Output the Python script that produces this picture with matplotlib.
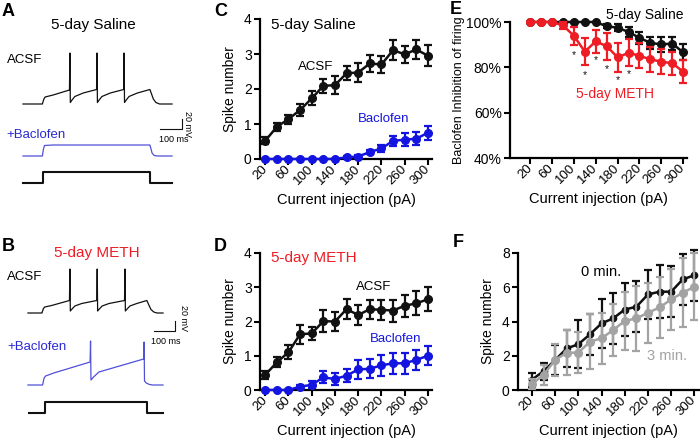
import numpy as np
import matplotlib.pyplot as plt

plt.rcParams['font.family'] = ['Liberation Sans', 'DejaVu Sans']

# ---------------- data ----------------
current = [20, 40, 60, 80, 100, 120, 140, 160, 180, 200, 220, 240, 260, 280, 300]
xtick_vals = [20, 60, 100, 140, 180, 220, 260, 300]

# C: 5-day saline
c_acsf = [0.52, 0.92, 1.14, 1.40, 1.73, 2.09, 2.11, 2.45, 2.47, 2.73, 2.70, 3.11, 2.99, 3.13, 2.95]
c_acsf_err = [0.10, 0.12, 0.13, 0.18, 0.20, 0.20, 0.25, 0.20, 0.28, 0.25, 0.25, 0.28, 0.25, 0.28, 0.30]
c_bac = [0, 0, 0, 0, 0, 0, 0, 0.05, 0.07, 0.20, 0.30, 0.52, 0.55, 0.58, 0.75]
c_bac_err = [0, 0, 0, 0, 0, 0, 0, 0.03, 0.05, 0.07, 0.10, 0.15, 0.18, 0.18, 0.20]

# D: 5-day METH
d_acsf = [0.44, 0.81, 1.10, 1.63, 1.65, 2.01, 2.00, 2.36, 2.19, 2.36, 2.34, 2.32, 2.46, 2.53, 2.65]
d_acsf_err = [0.12, 0.15, 0.20, 0.28, 0.20, 0.32, 0.28, 0.30, 0.30, 0.28, 0.30, 0.32, 0.32, 0.35, 0.35]
d_bac = [0, 0, 0, 0.10, 0.15, 0.37, 0.32, 0.42, 0.60, 0.62, 0.72, 0.78, 0.78, 0.88, 1.00]
d_bac_err = [0, 0, 0, 0.05, 0.10, 0.18, 0.18, 0.20, 0.28, 0.28, 0.30, 0.30, 0.30, 0.30, 0.28]

# E: baclofen inhibition (%)
e_sal = [100, 100, 100, 100, 100, 100, 100, 98.1, 97.5, 95.6, 93.0, 90.8, 90.1, 90.5, 86.6]
e_sal_err = [0, 0, 0, 0, 0, 0, 0, 0.8, 1.5, 2.0, 2.5, 2.8, 3.2, 3.0, 3.5]
e_meth = [100, 100, 100, 98.5, 93.9, 86.9, 91.5, 89.3, 84.4, 86.4, 85.1, 83.5, 82.5, 81.8, 78.1]
e_meth_err = [0, 0, 0, 1.5, 4.0, 6.0, 5.0, 6.0, 6.5, 6.0, 5.5, 5.5, 5.5, 5.0, 5.0]
star_x = [100, 120, 140, 160, 180, 200]
star_y = [85.2, 76.4, 83.0, 79.4, 74.4, 77.2]

# F: 0 min vs 3 min
f_0 = [0.60, 1.10, 1.75, 2.43, 2.67, 3.25, 3.89, 4.18, 4.70, 4.86, 5.58, 5.74, 5.74, 6.46, 6.70]
f_0_err = [0.40, 0.50, 0.90, 1.07, 1.40, 1.20, 1.45, 1.50, 1.56, 1.50, 1.42, 1.55, 1.50, 1.50, 1.50]
f_3 = [0.35, 0.88, 1.75, 2.18, 2.18, 2.82, 3.02, 3.50, 4.03, 4.18, 4.51, 4.82, 5.29, 5.68, 6.03]
f_3_err = [0.30, 0.60, 0.95, 1.30, 1.20, 1.60, 1.50, 1.50, 1.70, 1.90, 1.75, 1.80, 1.80, 2.00, 1.95]

# example traces (time ms, membrane deflection mV)
a_acsf_t = [0, 90, 97, 103, 140, 216, 218, 220, 228, 241, 280, 342, 344, 346, 354, 367, 406,
            468, 470, 472, 480, 493, 532, 590, 596, 606, 618, 635, 693]
a_acsf_v = [0, 0, 10, 14, 18, 28, 102, 3, 8, 15, 22, 29, 102, 3, 8, 15, 22,
            29, 102, 3, 8, 15, 22, 29, 22, 10, 3, 0, 0]
a_bac_t = [0, 90, 95, 100, 140, 590, 594, 600, 610, 625, 693]
a_bac_v = [0, 0, 14, 21, 22, 22, 16, 6, 1, 0, 0]
a_step_t = [0, 93, 93, 590, 590, 693]
a_step_v = [0, 0, 22, 22, 0, 0]

b_acsf_t = [0, 65, 72, 78, 110, 193, 195, 197, 205, 218, 250, 320, 322, 324, 332, 345, 377,
            449, 451, 453, 461, 474, 506, 553, 560, 572, 585, 600, 628]
b_acsf_v = [0, 0, 9, 12, 15, 25, 88, 4, 8, 14, 19, 25, 88, 4, 8, 14, 19,
            25, 88, 4, 8, 14, 19, 25, 18, 7, 2, 0, 0]
b_bac_t = [0, 68, 75, 82, 120, 289, 291, 293, 305, 330, 538, 540, 542, 550, 565, 581, 628]
b_bac_v = [0, 0, 14, 18, 24, 46, 88, 10, 16, 26, 52, 86, 8, 4, 1, 0, 0]
b_step_t = [6, 79, 79, 552, 552, 626]
b_step_v = [0, 0, 22, 22, 0, 0]

blk = '#111111'
blue = '#1414e0'
trace_blue = '#5050d8'
red = '#ee1c24'
gray = '#a3a3a3'

W, H = 700, 448
fig = plt.figure(figsize=(7, 4.48), dpi=100)


def ftext(x, y, s, **kw):
    fig.text(x / W, 1 - y / H, s, **kw)


def style(ax, xlim, ylim, yticks, ylabels):
    for s in ['top', 'right']:
        ax.spines[s].set_visible(False)
    for s in ['left', 'bottom']:
        ax.spines[s].set_linewidth(1.6)
    ax.set_xlim(*xlim)
    ax.set_ylim(*ylim)
    ax.set_yticks(yticks)
    ax.set_yticklabels(ylabels, fontsize=10)
    ax.set_xticks(xtick_vals)
    ax.set_xticklabels([str(v) for v in xtick_vals], rotation=45, ha='right',
                       va='center', rotation_mode='anchor', fontsize=9.5)
    ax.tick_params(width=1.5, length=4, pad=2)
    ax.set_xlabel('Current injection (pA)', fontsize=10.5, labelpad=4)


def ebar(ax, y, err, color, z, ms=5.5):
    ax.errorbar(current, y, yerr=err, fmt='-o', color=color, ms=ms, lw=1.8,
                elinewidth=1.6, capsize=3, capthick=1.6, clip_on=False, zorder=z)


# ---------------- A / B traces ----------------
axA = fig.add_axes([0, 0.5, 200 / W, 0.5])
axA.axis('off')
axA.set_xlim(-107, 823)
axA.set_ylim(-240, 208)
axA.plot(a_acsf_t, a_acsf_v, color=blk, lw=0.9)
axA.plot(a_bac_t, np.array(a_bac_v) - 104, color=trace_blue, lw=0.9)
axA.plot(a_step_t, np.array(a_step_v) - 158, color=blk, lw=1.5)
axA.plot([638, 738, 738], [-50, -50, -30], color=blk, lw=0.8)
axA.text(700, -62, '100 ms', fontsize=6.5, ha='center', va='top')
axA.text(767, -40, '20 mV', fontsize=6.5, ha='center', va='center', rotation=270)

axB = fig.add_axes([0, 0, 200 / W, 0.5])
axB.axis('off')
axB.set_xlim(-130, 800)
axB.set_ylim(-270, 178)
axB.plot(b_acsf_t, b_acsf_v, color=blk, lw=0.9)
axB.plot(b_bac_t, np.array(b_bac_v) - 144, color=trace_blue, lw=0.9)
axB.plot(b_step_t, np.array(b_step_v) - 200, color=blk, lw=1.5)
axB.plot([586, 684, 684], [-36, -36, -16], color=blk, lw=0.8)
axB.text(640, -48, '100 ms', fontsize=6.5, ha='center', va='top')
axB.text(721, -10, '20 mV', fontsize=6.5, ha='center', va='center', rotation=270)

ftext(93, 25, '5-day Saline', fontsize=11, ha='center', va='center')
ftext(7, 60, 'ACSF', fontsize=9.5, ha='left', va='center')
ftext(6, 135, '+Baclofen', fontsize=9.5, ha='left', va='center', color='#2a2ad0')
ftext(97, 253, '5-day METH', fontsize=11, ha='center', va='center', color=red)
ftext(7, 277, 'ACSF', fontsize=9.5, ha='left', va='center')
ftext(7, 347, '+Baclofen', fontsize=9.5, ha='left', va='center', color='#2a2ad0')

# ---------------- C ----------------
axC = fig.add_axes([260 / W, 1 - 159 / H, 172 / W, 140 / H])
style(axC, (11, 307), (0, 4), [0, 1, 2, 3, 4], ['0', '1', '2', '3', '4'])
ebar(axC, c_acsf, c_acsf_err, blk, 3)
ebar(axC, c_bac, c_bac_err, blue, 4)
axC.set_ylabel('Spike number', fontsize=10, labelpad=5)
axC.text(30, 3.83, '5-day Saline', fontsize=11, ha='left', va='center')
axC.text(106, 2.63, 'ACSF', fontsize=9.5, ha='center', va='center')
axC.text(223, 1.14, 'Baclofen', fontsize=9.5, ha='center', va='center', color=blue)

# ---------------- D ----------------
axD = fig.add_axes([260 / W, 1 - 390 / H, 172 / W, 137 / H])
style(axD, (11, 307), (0, 4), [0, 1, 2, 3, 4], ['0', '1', '2', '3', '4'])
ebar(axD, d_acsf, d_acsf_err, blk, 3)
ebar(axD, d_bac, d_bac_err, blue, 4)
axD.set_ylabel('Spike number', fontsize=10, labelpad=5)
axD.text(30, 3.85, '5-day METH', fontsize=11, ha='left', va='center', color=red)
axD.text(207, 3.0, 'ACSF', fontsize=9.5, ha='center', va='center')
axD.text(245, 1.49, 'Baclofen', fontsize=9.5, ha='center', va='center', color=blue)

# ---------------- E ----------------
axE = fig.add_axes([510 / W, 1 - 158 / H, 177 / W, 136 / H])
style(axE, (-17, 307), (40, 100), [40, 60, 80, 100], ['40%', '60%', '80%', '100%'])
ebar(axE, e_sal, e_sal_err, blk, 3)
ebar(axE, e_meth, e_meth_err, red, 4)
axE.set_ylabel('Baclofen Inhibition of firing', fontsize=9, labelpad=1)
for sx, sy in zip(star_x, star_y):
    axE.text(sx, sy, '*', fontsize=7.5, ha='center', va='center', color=blk)
axE.text(300, 103, '5-day Saline', fontsize=10, ha='right', va='center')
axE.text(175, 68.3, '5-day METH', fontsize=10, ha='center', va='center', color=red)

# ---------------- F ----------------
axF = fig.add_axes([518 / W, 1 - 390 / H, 181 / W, 137 / H])
style(axF, (-4, 308), (0, 8), [0, 2, 4, 6, 8], ['0', '2', '4', '6', '8'])
ebar(axF, f_0, f_0_err, blk, 3, ms=4.5)
ebar(axF, f_3, f_3_err, gray, 4)
axF.set_ylabel('Spike number', fontsize=10, labelpad=5)
axF.text(140, 6.9, '0 min.', fontsize=10.5, ha='center', va='center')
axF.text(252, 2.0, '3 min.', fontsize=10.5, ha='center', va='center', color=gray)

# panel letters
for lx, ly, s in [(2, 11, 'A'), (2, 246, 'B'), (214, 11, 'C'), (214, 246, 'D'),
                  (450, 9, 'E'), (453, 242, 'F')]:
    ftext(lx, ly, s, fontsize=13, fontweight='bold', ha='left', va='center')

fig.savefig('out.png', dpi=100)
